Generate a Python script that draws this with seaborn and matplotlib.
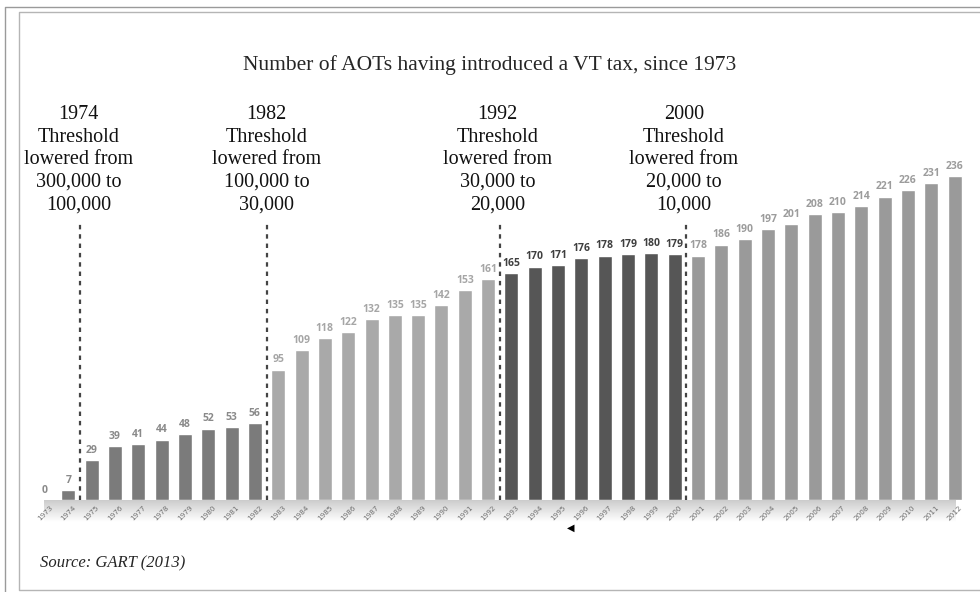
import seaborn as sns
import matplotlib.pyplot as plt
from matplotlib.lines import Line2D
import numpy as np

# Data
years = [str(y) for y in range(1973, 2013)]
aots = [0, 7, 29, 39, 41, 44, 48, 52, 53, 56,
        95, 109, 118, 122, 132, 135, 135, 142, 153, 161,
        165, 170, 171, 176, 178, 179, 180, 179,
        178, 186, 190, 197, 201, 208, 210, 214, 221, 226, 231, 236]
group_sizes = [10, 10, 8, 12]
bar_colors = ['#7b7b7b', '#a9a9a9', '#565656', '#9a9a9a']
label_colors = ['#8a8a8a', '#a6a6a6', '#3f3f3f', '#9c9c9c']

# Threshold changes: (position between bars, text, text x)
thresholds = [
    (1.5, '1974\nThreshold\nlowered from\n300,000 to\n100,000', 1.45),
    (9.5, '1982\nThreshold\nlowered from\n100,000 to\n30,000', 9.5),
    (19.5, '1992\nThreshold\nlowered from\n30,000 to\n20,000', 19.4),
    (27.5, '2000\nThreshold\nlowered from\n20,000 to\n10,000', 27.4),
]

sns.set_style('white')
serif = ['Liberation Serif', 'DejaVu Serif']

colors, lcolors = [], []
for size, c, lc in zip(group_sizes, bar_colors, label_colors):
    colors += [c] * size
    lcolors += [lc] * size

fig = plt.figure(figsize=(9.8, 5.92), dpi=100)
fig.patch.set_facecolor('white')


def px(x, y):
    return x / 980, 1 - y / 592


# frames around the picture
for xs, ys, col in [([5, 5, 980], [592, 7, 7], '#9a9a9a'),
                    ([980, 19, 19, 980], [12, 12, 590, 590], '#b5b5b5')]:
    fig.add_artist(Line2D([x / 980 for x in xs], [1 - y / 592 for y in ys],
                          transform=fig.transFigure, color=col, linewidth=1))

# soft shadow under the axis
shadow = fig.add_axes([0.045, (592 - 522) / 592, 0.93, 22 / 592])
grad = np.linspace(0.8, 1.0, 50).reshape(-1, 1)
shadow.imshow(np.repeat(grad, 10, axis=1), cmap='gray', vmin=0, vmax=1,
              aspect='auto', interpolation='bicubic')
shadow.axis('off')

ax = fig.add_axes([0.034, 92 / 592, 0.952, 460 / 592])
ax.patch.set_alpha(0)
sns.barplot(x=years, y=aots, hue=years, palette=colors, legend=False,
            width=0.6, saturation=1, ax=ax)

for i, (v, lc) in enumerate(zip(aots, lcolors)):
    ax.text(i, v + 3, str(v), ha='center', va='bottom', fontsize=7.5,
            color=lc, fontweight='bold', family=['Open Sans', 'DejaVu Sans'])

for xpos, txt, tx in thresholds:
    ax.plot([xpos, xpos], [0, 202], linestyle=(0, (2, 2.2)), color='#444444',
            linewidth=1.6)
    ax.text(tx, 208, txt, ha='center', va='bottom', fontsize=14.5,
            family=serif, linespacing=1.25, color='#111111')

ax.set_xlim(-0.5, len(years) - 0.5)
ax.set_ylim(0, 335)
ax.set_yticks([])
ax.set_xlabel('')
ax.set_ylabel('')
ax.tick_params(axis='x', length=0, pad=3, labelsize=5.2, labelcolor='#6f6f6f')
for lab in ax.get_xticklabels():
    lab.set_rotation(45)
    lab.set_ha('center')
sns.despine(ax=ax, left=True, bottom=True)

fig.text(*px(490, 65), 'Number of AOTs having introduced a VT tax, since 1973',
         ha='center', va='center', fontsize=15.5, family=serif)
fig.text(*px(40, 563), 'Source: GART (2013)', ha='left', va='center',
         fontsize=12, style='italic', family=serif)
# small marker below the axis
fig.text(*px(571, 528), '\u25c0', ha='center', va='center',
         fontsize=7, color='black', family=['DejaVu Sans'])

fig.savefig('out.png', dpi=100)
